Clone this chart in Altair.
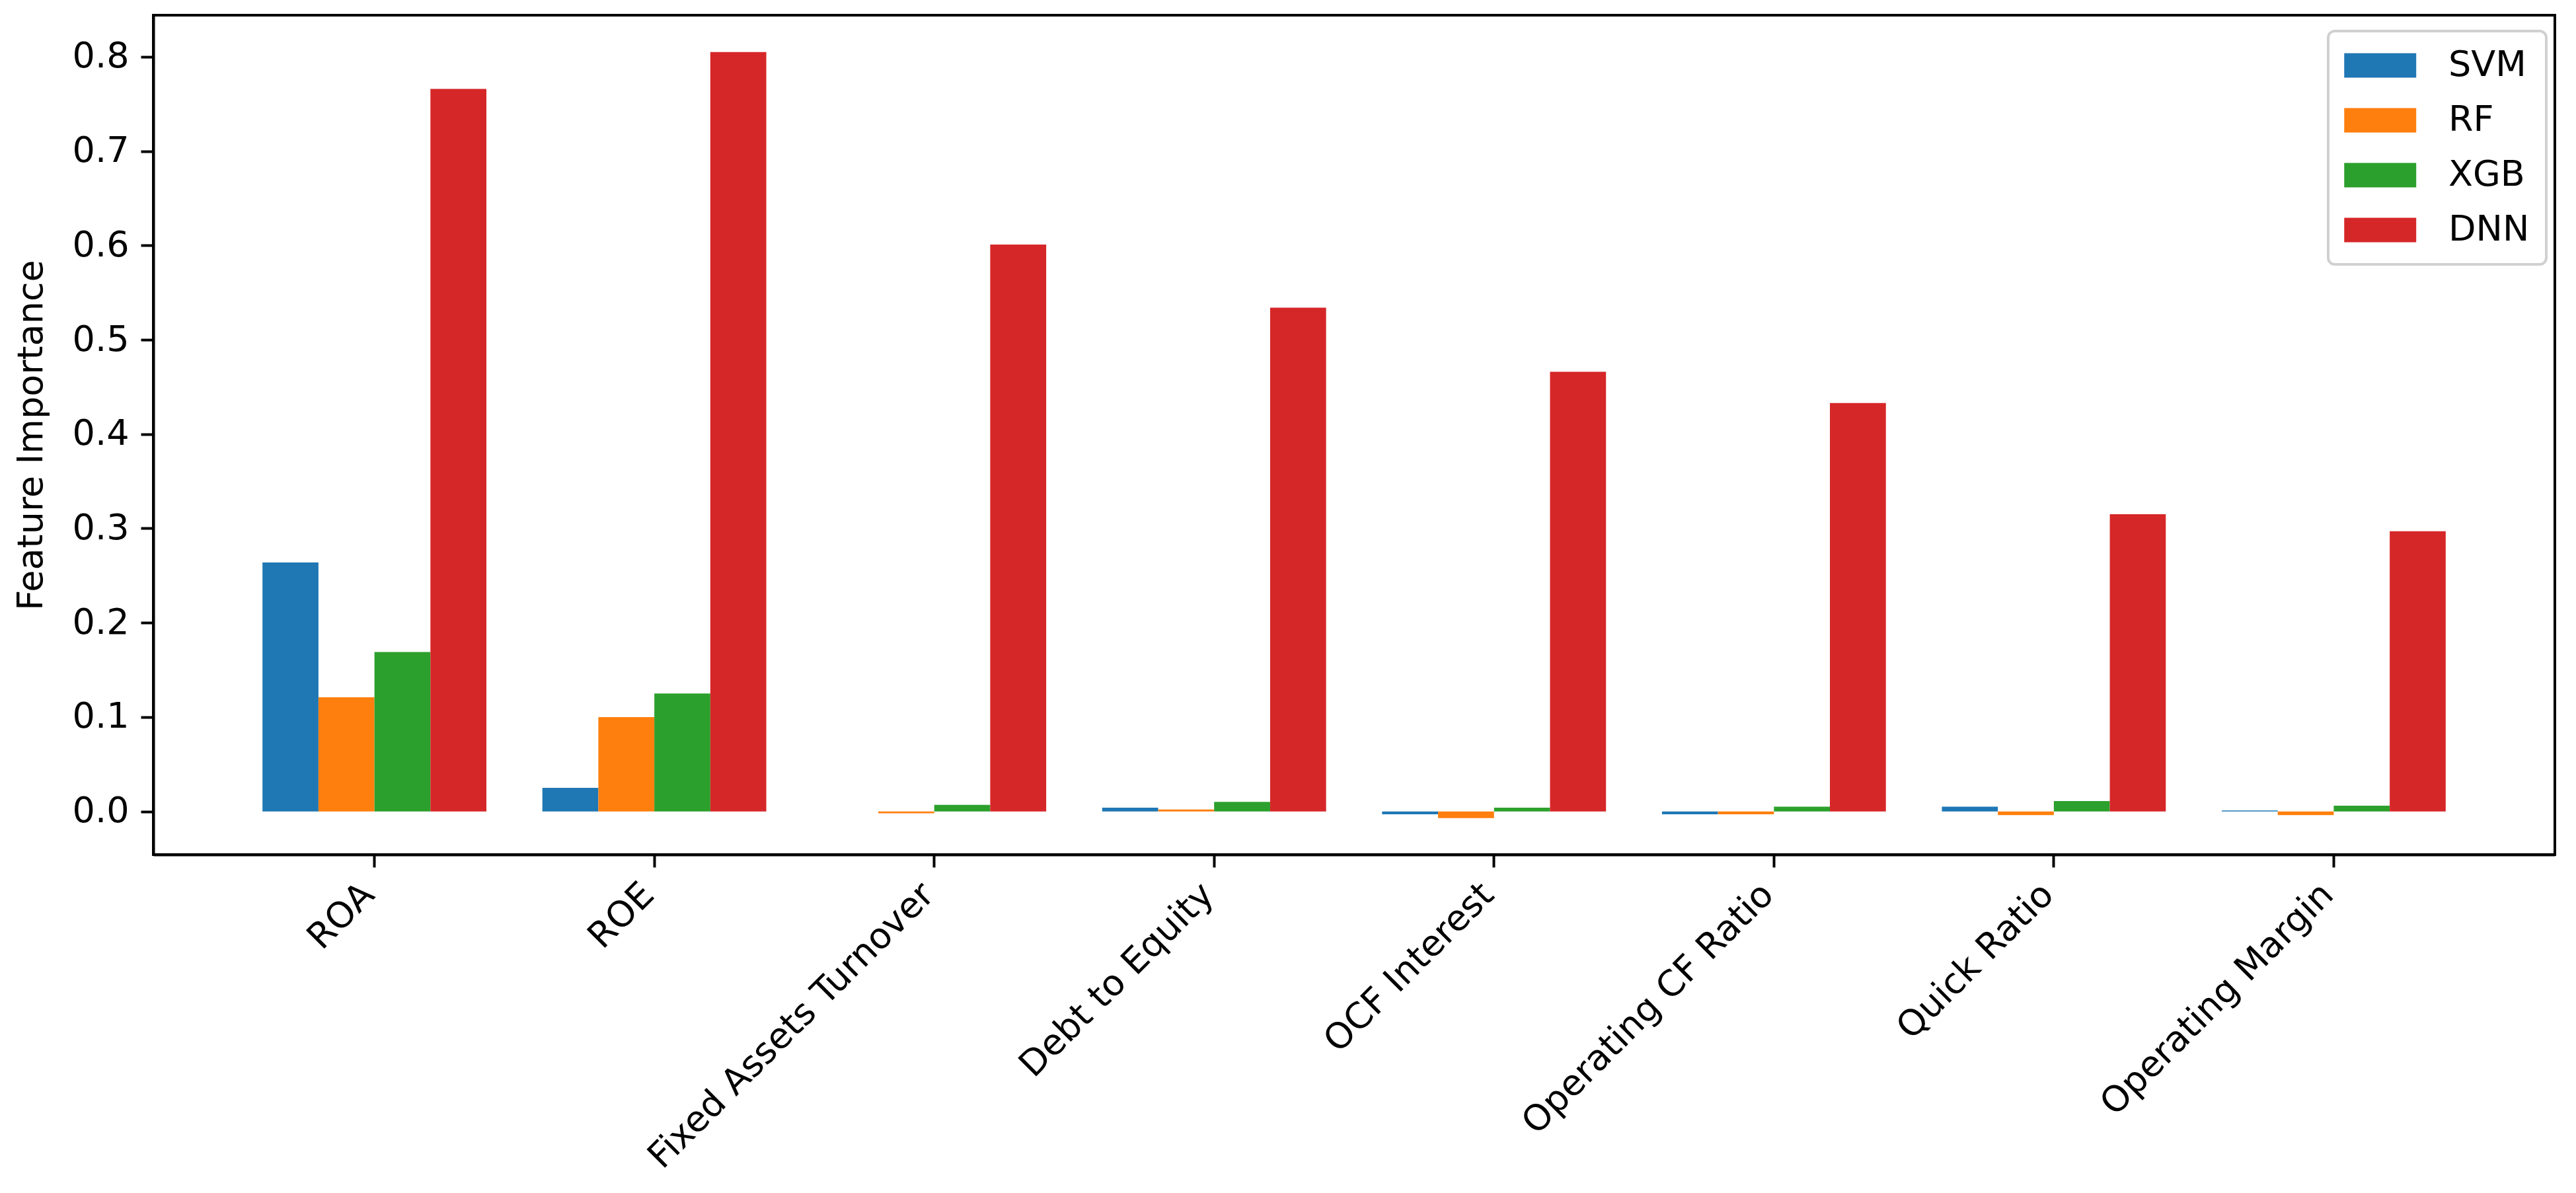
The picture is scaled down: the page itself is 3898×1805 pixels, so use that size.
import altair as alt
import pandas as pd

features = ["ROA", "ROE", "Fixed Assets Turnover", "Debt to Equity",
            "OCF Interest", "Operating CF Ratio", "Quick Ratio", "Operating Margin"]
models = ["SVM", "RF", "XGB", "DNN"]
colors = ["#1f77b4", "#ff7f0e", "#2ca02c", "#d62728"]

svm = [0.264, 0.025, 0.000, 0.004, -0.003, -0.003, 0.005, 0.001]
rf = [0.121, 0.100, -0.002, 0.002, -0.007, -0.003, -0.004, -0.004]
xgb = [0.169, 0.125, 0.007, 0.010, 0.004, 0.005, 0.011, 0.006]
dnn = [0.766, 0.805, 0.601, 0.534, 0.466, 0.433, 0.315, 0.297]

y_ticks = [0.0, 0.1, 0.2, 0.3, 0.4, 0.5, 0.6, 0.7, 0.8]

rows = []
for m, vals in zip(models, [svm, rf, xgb, dnn]):
    for f, v in zip(features, vals):
        rows.append({"feature": f, "model": m, "value": v})
df = pd.DataFrame(rows)

FONT = "DejaVu Sans"

chart = alt.Chart(df).mark_bar(cornerRadius=0).encode(
    x=alt.X("feature:N", sort=features, title=None,
            scale=alt.Scale(paddingInner=0.2, paddingOuter=0.39),
            axis=alt.Axis(labelAngle=-45, labelAlign="right", labelBaseline="top",
                          labelFont=FONT, labelFontSize=54, labelColor="black",
                          labelPadding=14, labelOffset=-28,
                          tickSize=19, tickWidth=4, tickColor="black",
                          domain=True, domainColor="black", domainWidth=4,
                          grid=False, labelLimit=1200)),
    xOffset=alt.XOffset("model:N", sort=models,
                        scale=alt.Scale(paddingInner=0, paddingOuter=0)),
    y=alt.Y("value:Q", title="Feature Importance",
            scale=alt.Scale(domain=[-0.0458, 0.8441], nice=False, zero=False),
            axis=alt.Axis(values=y_ticks, format=".1f",
                          labelFont=FONT, labelFontSize=54, labelColor="black",
                          labelPadding=18, tickSize=19, tickWidth=4, tickColor="black",
                          domain=True, domainColor="black", domainWidth=4,
                          grid=False, titleFont=FONT, titleFontSize=54,
                          titleFontWeight="normal", titleColor="black",
                          titlePadding=35)),
    color=alt.Color("model:N", sort=models,
                    scale=alt.Scale(domain=models, range=colors),
                    legend=alt.Legend(title=None, orient="none", legendX=3291, legendY=24,
                                      direction="vertical",
                                      symbolType="M-1.5,-1L4.39,-1L4.39,1L-1.5,1Z",
                                      symbolSize=1369, symbolStrokeWidth=0,
                                      symbolOpacity=1,
                                      labelFont=FONT, labelFontSize=54, labelColor="black",
                                      labelOffset=103, rowPadding=29,
                                      padding=25, strokeColor="#d0d0d0",
                                      fillColor="white", cornerRadius=10)),
).properties(
    width=3634,
    height=1270,
    autosize=alt.AutoSizeParams(type="none"),
    padding={"left": 224, "top": 15, "right": 24, "bottom": 500},
).configure_view(
    stroke="black", strokeWidth=4
).configure_legend(
    strokeWidth=4
)

chart.save("out.html", embed_options={"renderer": "svg", "actions": False})
